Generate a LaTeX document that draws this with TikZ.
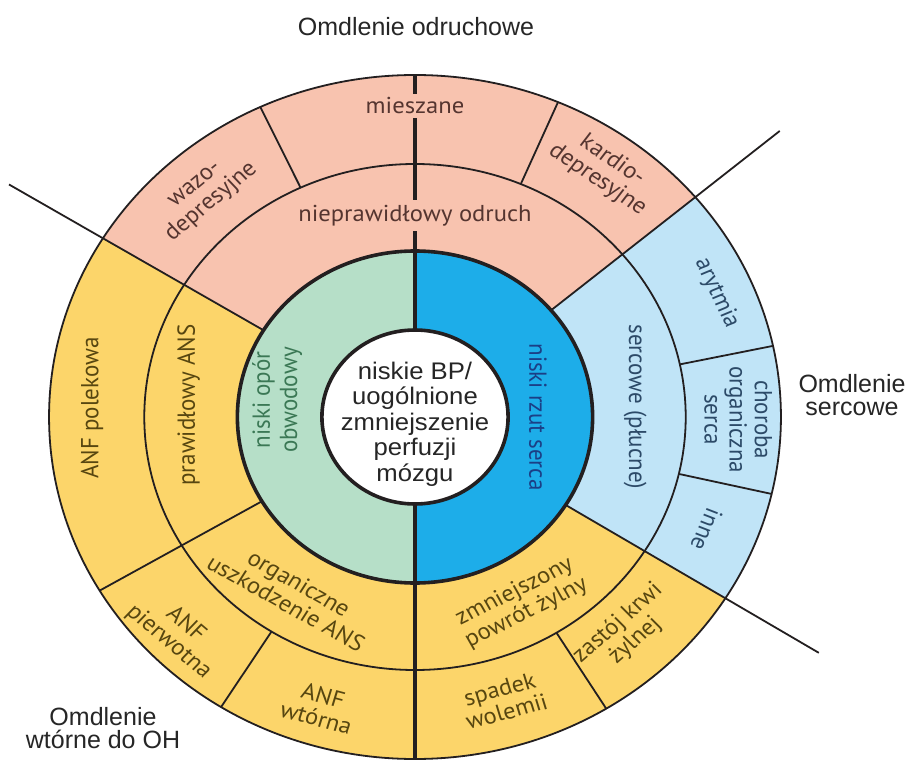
\documentclass[tikz,border=0pt]{standalone}
\usepackage{fontspec}
\setmainfont{Liberation Sans}
\newfontfamily\ringfont{PT Sans}

\definecolor{salmonfill}{HTML}{F8C3AF}
\definecolor{yellowfill}{HTML}{FCD56A}
\definecolor{skyfill}{HTML}{C0E4F7}
\definecolor{mintfill}{HTML}{B6DFC8}
\definecolor{bluefill}{HTML}{1DADE9}
\definecolor{salmontext}{HTML}{553530}
\definecolor{yellowtext}{HTML}{574610}
\definecolor{skytext}{HTML}{2C4A68}
\definecolor{minttext}{HTML}{3B7855}
\definecolor{bluetext}{HTML}{1B3F86}
\definecolor{inkline}{HTML}{231F20}

% filled wedge: colour, start angle, end angle, radius
\newcommand\pieslice[4]{\fill[#1] (0,0) -- (#2:#4) arc[start angle=#2,end angle=#3,radius=#4] -- cycle;}

\tikzset{
  border/.style={draw=inkline, line width=1.8pt},
  heavy/.style={draw=inkline, line width=3.6pt},
  ringlabel/.style={font=\ringfont\fontsize{23}{23.5}\selectfont, align=center, inner sep=1pt, transform shape},
  title/.style={font=\fontsize{25}{23}\selectfont, align=center, text=black!85},
}

\begin{document}
\begin{tikzpicture}[x=1pt,y=1pt]
\useasboundingbox (-415,-343) rectangle (494,417);
\fill[white] (-415,-343) rectangle (494,417);

\begin{scope}[xscale=1.07]
  % outer categories
  \pieslice{salmonfill}{40}{148.5}{342}
  \pieslice{skyfill}{-32}{40}{342}
  \pieslice{yellowfill}{148.5}{328}{342}
  % mechanism ring
  \pieslice{mintfill}{90}{270}{166}
  \pieslice{bluefill}{-90}{90}{166}

  % ring outlines
  \draw[border] (0,0) circle[radius=342];
  \draw[border] (0,0) circle[radius=253];

  % long dividing lines between the three syncope groups
  \draw[border] (148.5:166) -- (148.5:445);
  \draw[border] (40:166) -- (40:445);
  \draw[border] (-32:166) -- (-32:445);
  \draw[border] (210.5:166) -- (210.5:342);

  % cell separators in the outer band
  \draw[border] (115:253) -- (115:342);
  \draw[border] (67:253) -- (67:342);
  \draw[border] (12:253) -- (12:342);
  \draw[border] (-13:253) -- (-13:342);
  \draw[border] (238:253) -- (238:342);
  \draw[border] (-58.5:253) -- (-58.5:342);

  % central axis
  \draw[heavy] (90:342) -- (270:342);
  \draw[heavy] (0,0) circle[radius=166];

  % centre disc
  \filldraw[fill=white, draw=inkline, line width=3.6pt] (0,0) circle[radius=87];
  \node[font=\fontsize{24}{25.5}\selectfont, align=center, text=black!85, transform shape] (core) at (0,-7)
    {niskie BP/\\uogólnione\\zmniejszenie\\perfuzji\\mózgu};

  % mechanism ring labels
  \node[ringlabel, text=minttext, rotate=90] (lowres) at (172.5:130)
    {niski opór\\[2pt]obwodowy};
  \node[ringlabel, text=bluetext, rotate=-90] (lowco) at (0:115) {niski rzut serca};

  % reflex syncope
  \node[ringlabel, text=salmontext, fill=salmonfill, inner ysep=4pt] (mixed) at (90:311) {mieszane};
  \node[ringlabel, text=salmontext, fill=salmonfill, inner ysep=5pt] (abnref) at (90:201) {nieprawidłowy odruch};
  \node[ringlabel, text=salmontext, rotate=41.5] (vaso) at (131.5:297) {wazo-\\depresyjne};
  \node[ringlabel, text=salmontext, rotate=-35.7] (cardio) at (54.3:304) {kardio-\\depresyjne};

  % cardiac syncope
  \node[ringlabel, text=skytext, rotate=-66] (arrh) at (23.7:308) {arytmia};
  \node[ringlabel, text=skytext, rotate=-90] (cardpulm) at (2.8:206) {sercowe (płucne)};
  \node[ringlabel, text=skytext, rotate=-90] (struct) at (-0.5:302) {choroba\\organiczna\\serca};
  \node[ringlabel, text=skytext, rotate=-112.5] (other) at (-22.5:295) {inne};

  % syncope due to orthostatic hypotension
  \node[ringlabel, text=yellowtext, rotate=28] (venret) at (-62:210) {zmniejszony\\powrót żylny};
  \node[ringlabel, text=yellowtext, rotate=43] (pool) at (-47.4:292) {zastój krwi\\żylnej};
  \node[ringlabel, text=yellowtext, rotate=16] (volume) at (-73.8:295) {spadek\\wolemii};
  \node[ringlabel, text=yellowtext, rotate=-16] (anf2) at (252.9:303) {ANF\\wtórna};
  \node[ringlabel, text=yellowtext, rotate=-42] (anf1) at (224.2:310) {ANF\\pierwotna};
  \node[ringlabel, text=yellowtext, rotate=-31] (structans) at (237:210) {organiczne\\uszkodzenie ANS};
  \node[ringlabel, text=yellowtext, rotate=90] (normans) at (176.8:212) {prawidłowy ANS};
  \node[ringlabel, text=yellowtext, rotate=90] (druganf) at (178.3:302) {ANF polekowa};
\end{scope}

% group titles
\node[title] (reflex) at (1,390) {Omdlenie odruchowe};
\node[title] (cardiac) at (437,22) {Omdlenie\\sercowe};
\node[title] (ortho) at (-312,-311) {Omdlenie\\wtórne do OH};
\end{tikzpicture}
\end{document}
